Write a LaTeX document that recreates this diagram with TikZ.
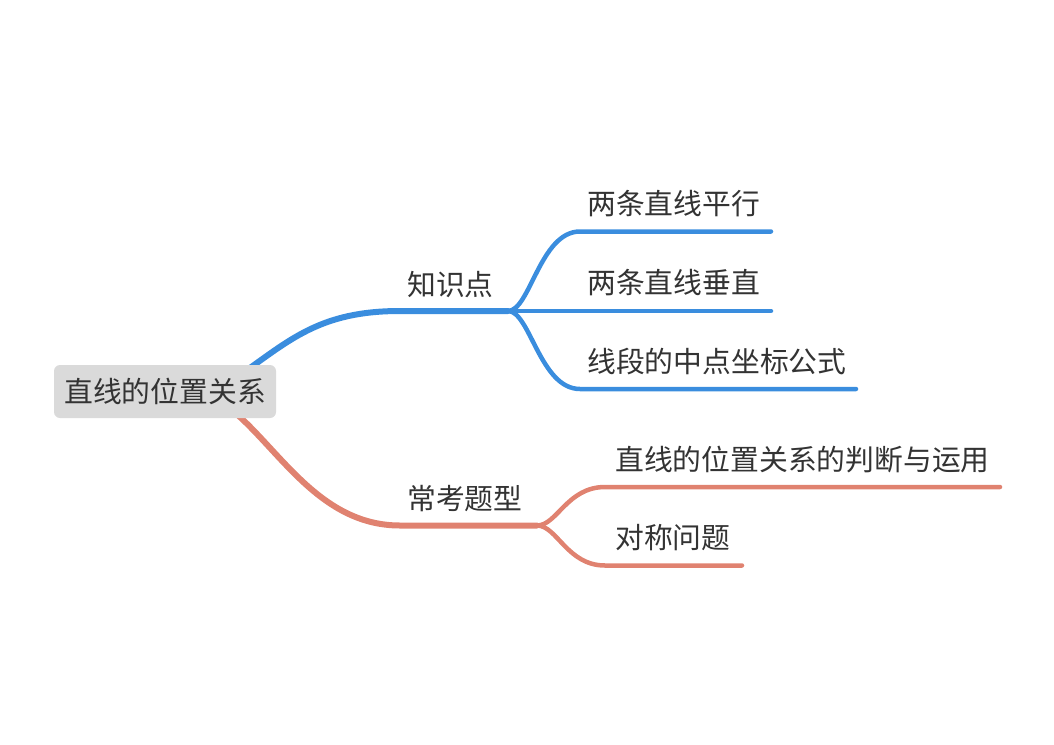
\documentclass[tikz,border=0pt]{standalone}
\usepackage{fontspec}
\setmainfont{Noto Sans CJK SC}
\usetikzlibrary{backgrounds,calc}
\definecolor{bl}{RGB}{58,141,222}
\definecolor{rd}{RGB}{224,130,112}
\definecolor{txt}{RGB}{51,51,51}
\definecolor{rootbg}{RGB}{218,218,218}
\begin{document}
\begin{tikzpicture}[x=1pt,y=-1pt,
  lbl/.style={anchor=base west, inner sep=0pt, text=txt, font=\fontsize{28.8}{34}\selectfont},
  rootbox/.style={fill=rootbg, rounded corners=6pt, minimum width=222pt, minimum height=53pt, inner sep=0pt, text=txt, font=\fontsize{28.8}{34}\selectfont},
  mainline/.style={line width=6pt, line cap=round},
  subline/.style={line width=4.5pt, line cap=round}]
\useasboundingbox (0,0) rectangle (1054,744);

% root
\node[rootbox] (root) at (165,391.5) {直线的位置关系};

% labels
\node[lbl] (zs) at (407,295) {知识点};
\node[lbl] (b1) at (587,214) {两条直线平行};
\node[lbl] (b2) at (587,293) {两条直线垂直};
\node[lbl] (b3) at (587,372) {线段的中点坐标公式};
\node[lbl] (ck) at (407,509) {常考题型};
\node[lbl] (r1) at (615,470) {直线的位置关系的判断与运用};
\node[lbl] (r2) at (615,548) {对称问题};

% junctions and ends
\coordinate (bs) at ($(root.center)+(75,-16.5)$);
\coordinate (bh) at (400,311);
\coordinate (bj) at (508,311);
\coordinate (b1s) at (580,231.5);
\coordinate (b1e) at (771,231.5);
\coordinate (b2e) at (771,311);
\coordinate (b3s) at (580,389);
\coordinate (b3e) at (856,389);

\coordinate (rs) at ($(root.center)+(67,18.5)$);
\coordinate (rh) at (400,525.5);
\coordinate (rj) at (537,525.5);
\coordinate (r1s) at (605,487);
\coordinate (r1e) at (1000,487);
\coordinate (r2s) at (605,565.5);
\coordinate (r2e) at (742,565.5);

\begin{pgfonlayer}{background}
  % blue branch
  \draw[bl, mainline] (bs) .. controls (290,340) and (320,311) .. (bh) -- (bj);
  \draw[bl, subline] (bj) .. controls (530,311) and (540,231.5) .. (b1s) -- (b1e);
  \draw[bl, subline] (bj) -- (b2e);
  \draw[bl, subline] (bj) .. controls (530,311) and (540,389) .. (b3s) -- (b3e);
  % red branch
  \draw[rd, mainline] (rs) .. controls (280,450) and (320,525.5) .. (rh) -- (rj);
  \draw[rd, subline] (rj) .. controls (557,525.5) and (567,487) .. (r1s) -- (r1e);
  \draw[rd, subline] (rj) .. controls (557,525.5) and (567,565.5) .. (r2s) -- (r2e);
\end{pgfonlayer}
\end{tikzpicture}
\end{document}
